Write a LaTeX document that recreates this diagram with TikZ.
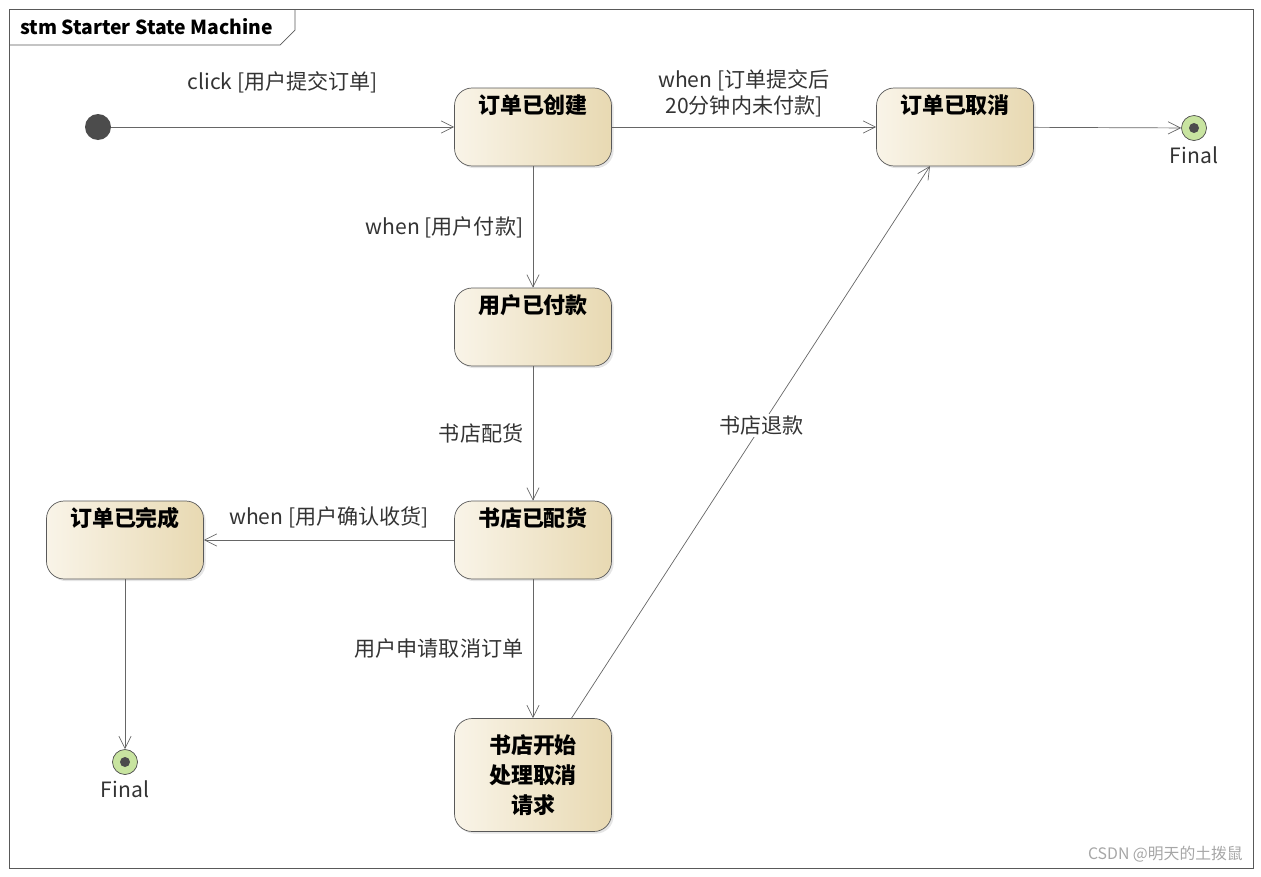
\documentclass[tikz,border=0pt]{standalone}
\usepackage{fontspec}
\setmainfont{Noto Sans CJK SC}
\usetikzlibrary{arrows.meta,shadows}
\definecolor{stateL}{RGB}{249,244,232}
\definecolor{stateR}{RGB}{232,217,178}
\definecolor{finalG}{RGB}{200,228,160}
\tikzset{
  state/.style={draw=gray!70!black,rounded corners=10pt,left color=stateL,right color=stateR,
    minimum width=3.14cm,minimum height=1.56cm,font=\fontsize{12.5}{17}\selectfont\bfseries,
    align=center,drop shadow={shadow xshift=1.2pt,shadow yshift=-1.2pt,fill=gray!40}},
  topbox/.style={state,inner sep=0pt,text height=0.5cm,text depth=1.06cm},
  trans/.style={draw=gray!80!black,-{Straight Barb[length=7pt,width=7pt]}},
  lbl/.style={font=\fontsize{12}{15}\selectfont,text=black!80},
  finalst/.style={circle,draw=gray!60!black,fill=finalG,minimum size=0.5cm,inner sep=0pt,
    path picture={\fill[black!70] (path picture bounding box.center) circle (0.1cm);}}
}
\begin{document}
\begin{tikzpicture}[x=0.02cm,y=-0.02cm]
  \useasboundingbox (0,0) rectangle (1261,876);
  \draw[gray!70!black] (9,9) rectangle (1253,868);
  \draw[gray!70!black] (9,45) -- (280,45) -- (295,30) -- (295,9);
  \node[anchor=west,font=\fontsize{11}{14}\selectfont\bfseries] (title) at (14,27) {stm Starter State Machine};

  \node[circle,fill=black!70,minimum size=0.52cm,inner sep=0pt] (init) at (98,127) {};
  \node[topbox] (created) at (533,127) {订单已创建};
  \node[topbox] (cancelled) at (955,127) {订单已取消};
  \node[topbox] (paid) at (533,327) {用户已付款};
  \node[topbox] (shipped) at (533,540) {书店已配货};
  \node[topbox] (done) at (125,540) {订单已完成};
  \node[state,minimum height=2.26cm] (handling) at (533,775) {书店开始\\处理取消\\请求};
  \node[finalst,label={[lbl]below:Final}] (final1) at (1194,128) {};
  \node[finalst,label={[lbl]below:Final}] (final2) at (125,762) {};
  \coordinate (hstart) at (571,719);
  \coordinate (hend) at (930,166);

  \draw[trans] (init) -- node[lbl,above=16pt] {click [用户提交订单]} (created);
  \draw[trans] (created) -- node[lbl,above=2pt,align=center] {when [订单提交后\\20分钟内未付款]} (cancelled);
  \draw[trans] (cancelled) -- (final1);
  \draw[trans] (created) -- node[lbl,left=2pt] {when [用户付款]} (paid);
  \draw[trans] (paid) -- node[lbl,left=2pt] {书店配货} (shipped);
  \draw[trans] (shipped) -- node[lbl,above=3pt] {when [用户确认收货]} (done);
  \draw[trans] (done) -- (final2);
  \draw[trans] (shipped) -- node[lbl,left=2pt] {用户申请取消订单} (handling);
  \draw[trans] (hstart) -- node[lbl,fill=white,inner sep=1pt,pos=0.53] {书店退款} (hend);
  \node[anchor=south east,font=\fontsize{9}{11}\selectfont,text=gray!70] (mark) at (1249,868) {CSDN @明天的土拨鼠};
\end{tikzpicture}
\end{document}
